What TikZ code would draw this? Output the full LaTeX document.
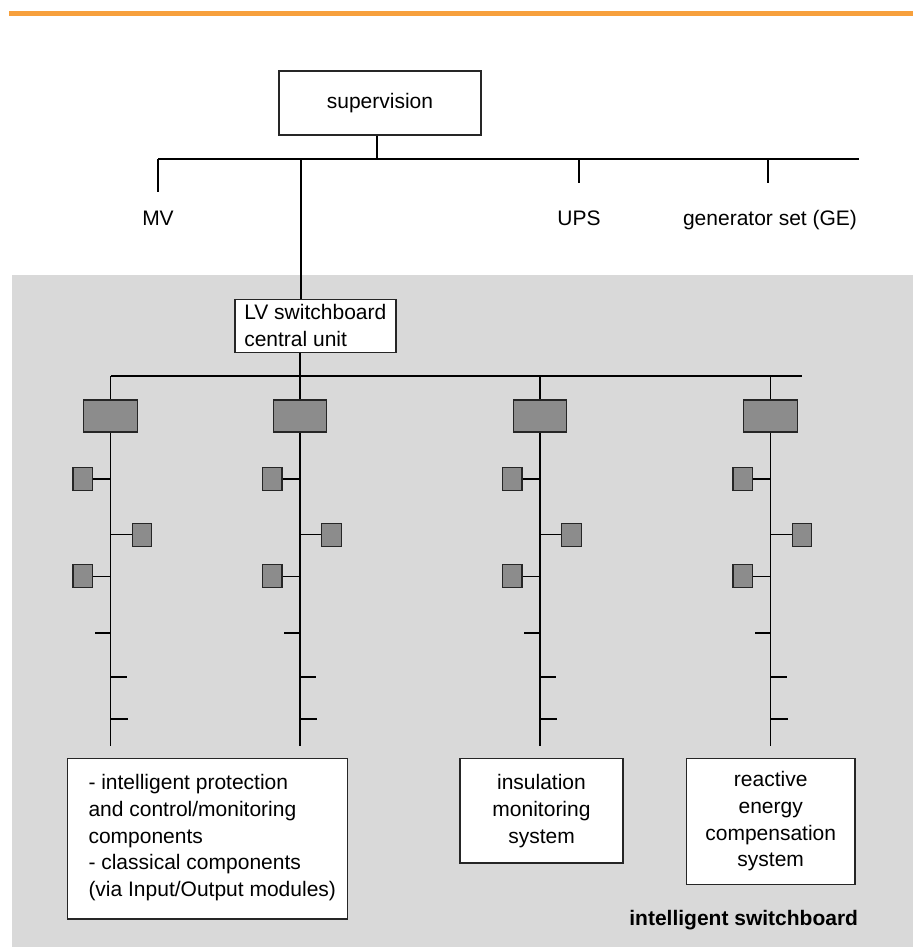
\documentclass[tikz,border=0pt]{standalone}
\usepackage{fontspec}
\setmainfont{Liberation Sans}
\definecolor{orangebar}{RGB}{247,160,60}
\definecolor{bggray}{RGB}{217,217,217}
\definecolor{darkbox}{RGB}{140,140,140}
\begin{document}
\begin{tikzpicture}[x=1pt,y=-1pt,
  wire/.style={line width=1.1pt,draw=black},
  whitebox/.style={draw=black!85,line width=1.4pt,fill=white,inner sep=0pt,font=\fontsize{21}{26.7}\selectfont},
  bigdev/.style={draw=black!85,line width=1.4pt,fill=darkbox,minimum width=53.5pt,minimum height=32pt,inner sep=0pt},
  smalldev/.style={draw=black!85,line width=1.3pt,fill=darkbox,minimum width=19.5pt,minimum height=23pt,inner sep=0pt},
  lbl/.style={font=\fontsize{21}{26.7}\selectfont,inner sep=0pt}
]
\useasboundingbox (0,0) rectangle (917,947);
\fill[white] (0,0) rectangle (917,947);
% orange bar
\fill[orangebar] (9,11) rectangle (913,16);
% gray area
\fill[bggray] (12,275) rectangle (913,947);

% supervision
\node[whitebox,minimum width=202pt,minimum height=64pt] (sup) at (380,103) {supervision};
\coordinate (b0) at (377,159);
\coordinate (busL) at (158,159);
\coordinate (busR) at (859,159);
\draw[wire] (sup.south -| b0) -- (b0);
\draw[wire] (busL) -- (busR);
% branches
\coordinate (mvEnd) at (158,192);
\coordinate (upsTop) at (579,159);
\coordinate (upsEnd) at (579,183);
\coordinate (geTop) at (768,159);
\coordinate (geEnd) at (768,183);
\draw[wire] (busL) -- (mvEnd);
\draw[wire] (upsTop) -- (upsEnd);
\draw[wire] (geTop) -- (geEnd);
\node[lbl,anchor=base] (mv) at (158,225.5) {MV};
\node[lbl,anchor=base] (ups) at (579,225.5) {UPS};
\node[lbl,anchor=base] (ge) at (770,225.5) {generator set (GE)};

% LV switchboard
\node[whitebox,minimum width=161pt,minimum height=53pt,align=left] (lv) at (315.3,325.7) {LV switchboard\\central unit};
\coordinate (lvTop) at (301,159);
\draw[wire] (lvTop) -- (lvTop |- lv.north);
\coordinate (bus2L) at (110.5,376);
\coordinate (bus2R) at (802,376);
\coordinate (lvDrop) at (300,376);
\draw[wire] (bus2L) -- (bus2R);
\draw[wire] (lv.south -| lvDrop) -- (lvDrop);

% columns
\foreach \i/\cx in {1/110.5,2/300,3/540,4/770.5}{
  \coordinate (top\i) at (\cx,376);
  \node[bigdev] (dev\i) at (\cx,416) {};
  \coordinate (bot\i) at (\cx,746);
  \draw[wire] (top\i) -- (dev\i.north);
  \draw[wire] (dev\i.south) -- (bot\i);
  \node[smalldev] (sa\i) at (\cx-27.75,479) {};
  \node[smalldev] (sb\i) at (\cx+31.5,534.8) {};
  \node[smalldev] (sc\i) at (\cx-27.75,576.2) {};
  \draw[wire] (sa\i.east) -- (sa\i.east -| bot\i);
  \draw[wire] (sb\i.west) -- (sb\i.west -| bot\i);
  \draw[wire] (sc\i.east) -- (sc\i.east -| bot\i);
  \coordinate (ta\i) at (\cx,633);
  \coordinate (tb\i) at (\cx,677);
  \coordinate (tc\i) at (\cx,719);
  \draw[wire] (ta\i) -- ++(-16,0);
  \draw[wire] (tb\i) -- ++(16,0);
  \draw[wire] (tc\i) -- ++(17,0);
}

% bottom boxes
\node[whitebox,minimum width=280.4pt,minimum height=160.3pt] (boxA) at (207.5,838.8) {};
\node[lbl,anchor=west,align=left] (boxAtext) at ([xshift=21.7pt,yshift=1pt]boxA.west)
 {- intelligent protection\\and control/monitoring\\components\\- classical components\\(via Input/Output modules)};
\node[whitebox,minimum width=163pt,minimum height=104.3pt,align=center] (boxB) at (541.5,810.9)
 {insulation\\monitoring\\system};
\node[whitebox,minimum width=168.7pt,minimum height=125.6pt,align=center] (boxC) at (770.7,821.5)
 {reactive\\energy\\compensation\\system};

\node[lbl,font=\fontsize{21}{26.7}\selectfont\bfseries] (isb) at (743.7,920) {intelligent switchboard};
\end{tikzpicture}
\end{document}
